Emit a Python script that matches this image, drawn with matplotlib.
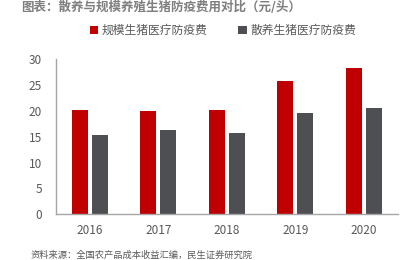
import matplotlib
matplotlib.use("Agg")
import matplotlib.pyplot as plt
import numpy as np

plt.rcParams['font.family'] = ['Noto Sans CJK SC', 'DejaVu Sans']

years = ['2016', '2017', '2018', '2019', '2020']
scale_fee = [20.1, 19.9, 20.2, 25.7, 28.4]
free_fee = [15.3, 16.4, 15.8, 19.7, 20.6]
series_names = ['规模生猪医疗防疫费', '散养生猪医疗防疫费']
title = '图表：散养与规模养殖生猪防疫费用对比（元/头）'
source = '资料来源：全国农产品成本收益汇编，民生证券研究院'

red = '#C00000'
gray = '#4D4F53'
txt = '#595959'

fig = plt.figure(figsize=(4.02, 2.60), dpi=100)
ax = fig.add_axes([0.1386, 0.1758, 0.8514, 0.5962])
x = np.arange(len(years))
w = 0.234
off = 0.146
ax.bar(x - off, scale_fee, width=w, color=red, label=series_names[0])
ax.bar(x + off, free_fee, width=w, color=gray, label=series_names[1])
ax.set_xlim(-0.5, len(years) - 0.5)
ax.set_ylim(0, 30)
ax.set_yticks(range(0, 31, 5))
ax.set_xticks(x)
ax.set_xticklabels(years)
for s in ['top', 'right']:
    ax.spines[s].set_visible(False)
for s in ['left', 'bottom']:
    ax.spines[s].set_color('#A6A6A6')
    ax.spines[s].set_linewidth(1.0)
ax.tick_params(axis='both', length=0, colors=txt, labelsize=8.5)
ax.tick_params(axis='y', pad=10)
ax.tick_params(axis='x', pad=7)

leg = fig.legend(loc='center', bbox_to_anchor=(0.555, 0.883), ncol=2, frameon=False,
                 fontsize=8.5, handlelength=0.7, handleheight=0.7, handletextpad=0.3,
                 columnspacing=2.6)
for t in leg.get_texts():
    t.set_color(txt)

fig.text(0.052, 0.998, title, fontsize=9, fontweight='bold', color='#7F7F7F',
         ha='left', va='top')
fig.text(0.075, 0.02, source, fontsize=6.7, color=txt, ha='left', va='center')

fig.savefig('out.png', dpi=100)
